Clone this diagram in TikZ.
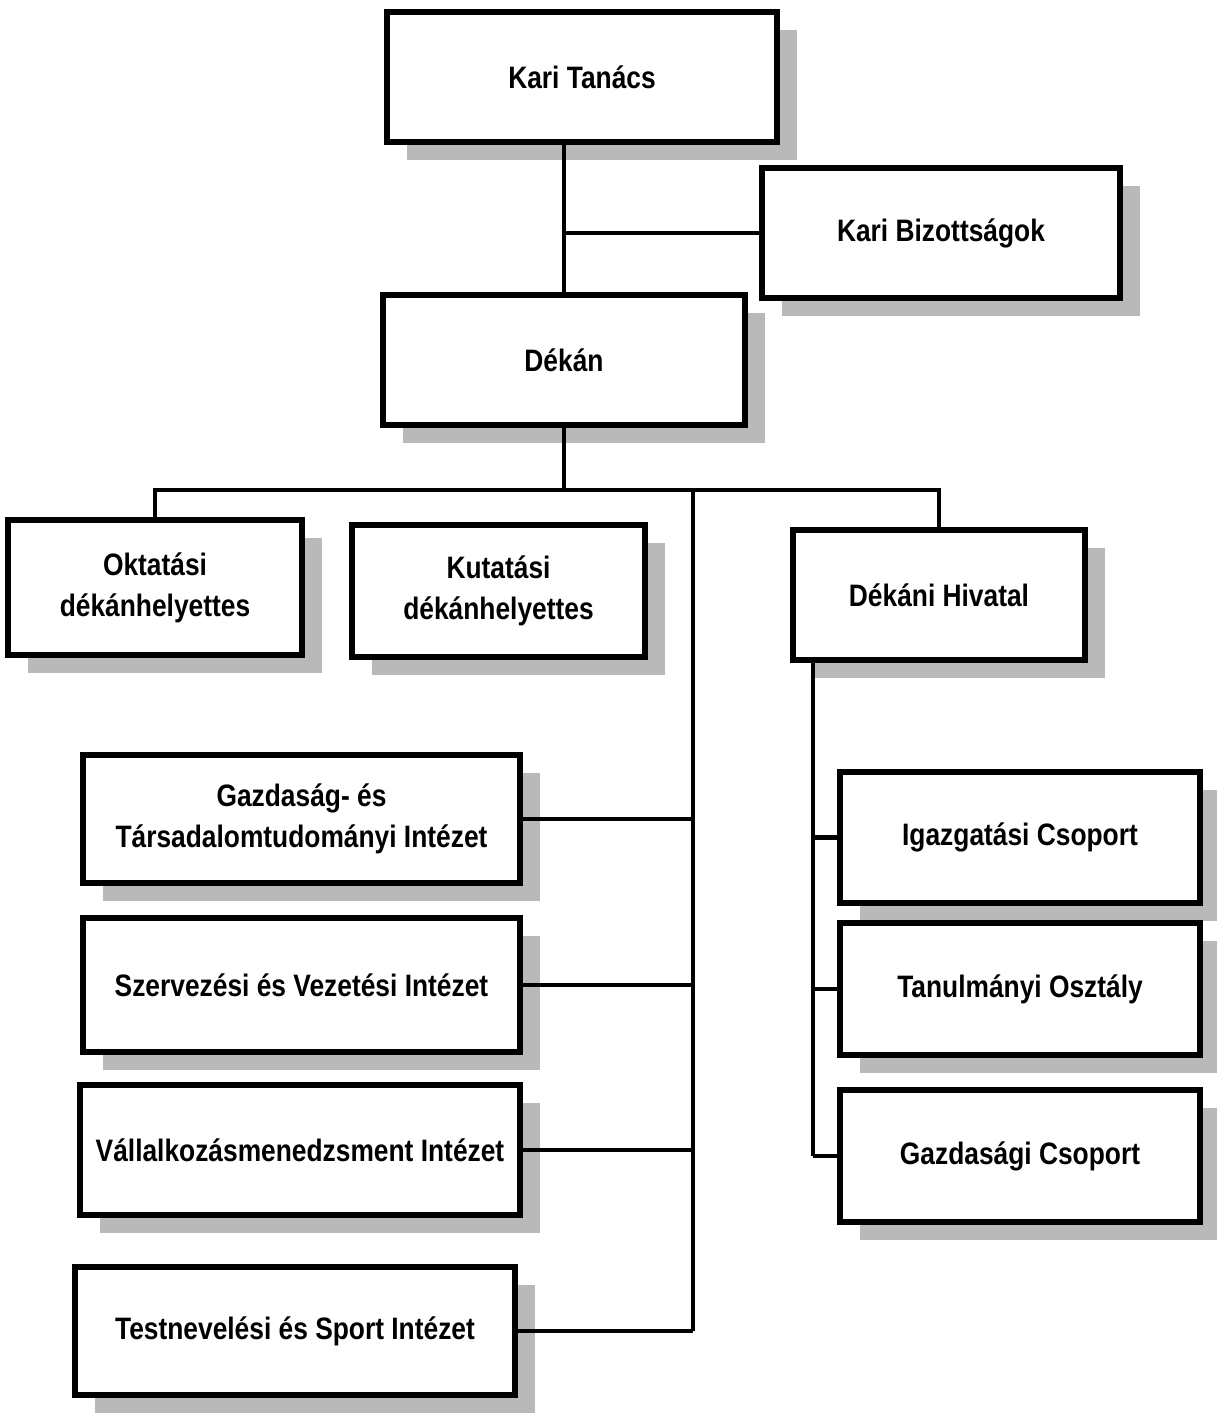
\documentclass[tikz,border=0pt]{standalone}
\usepackage{fontspec}
\setmainfont{Liberation Sans}[FakeStretch=0.85]
\usetikzlibrary{shadows}
\newlength{\pxu}
\setlength{\pxu}{0.5pt}
\begin{document}
\begin{tikzpicture}[x=0.5pt,y=-0.5pt,
  box/.style={draw=black, line width=2.6pt, fill=white, rectangle, align=center,
    font=\fontsize{15.5}{20.5}\selectfont\bfseries, inner sep=0pt,
    drop shadow={shadow xshift=20\pxu, shadow yshift=-18\pxu, fill=gray!55, opacity=1, draw=none}},
  conn/.style={draw=black, line width=2.1pt}]
\useasboundingbox (0,0) rectangle (1216,1418);
\node[box, minimum width=390\pxu, minimum height=130\pxu] (kt) at (582,77) {Kari Tanács};
\node[box, minimum width=358\pxu, minimum height=130\pxu] (kb) at (941,233) {Kari Bizottságok};
\node[box, minimum width=362\pxu, minimum height=130\pxu] (dk) at (564,360) {Dékán};
\node[box, minimum width=294\pxu, minimum height=135\pxu] (ok) at (155,587.5) {Oktatási\\dékánhelyettes};
\node[box, minimum width=293\pxu, minimum height=132\pxu] (ku) at (498.5,591) {Kutatási\\dékánhelyettes};
\node[box, minimum width=292\pxu, minimum height=130\pxu] (dh) at (939,595) {Dékáni Hivatal};
\node[box, minimum width=437\pxu, minimum height=128\pxu] (g1) at (301.5,819) {Gazdaság- és\\Társadalomtudományi Intézet};
\node[box, minimum width=437\pxu, minimum height=134\pxu] (g2) at (301.5,985) {Szervezési és Vezetési Intézet};
\node[box, minimum width=440\pxu, minimum height=130\pxu] (g3) at (300,1150) {Vállalkozásmenedzsment Intézet};
\node[box, minimum width=440\pxu, minimum height=128\pxu] (g4) at (295,1331) {Testnevelési és Sport Intézet};
\node[box, minimum width=360\pxu, minimum height=131\pxu] (r1) at (1020,837.5) {Igazgatási Csoport};
\node[box, minimum width=360\pxu, minimum height=132\pxu] (r2) at (1020,989) {Tanulmányi Osztály};
\node[box, minimum width=360\pxu, minimum height=132\pxu] (r3) at (1020,1156) {Gazdasági Csoport};
\coordinate (bus) at (564,490);
\coordinate (tr) at (693,490);
\coordinate (rb) at (813,660);
\draw[conn] (dk.north) -- (dk.north |- kt.south);
\draw[conn] (kb.west -| dk.north) -- (kb.west);
\draw[conn] (dk.south) -- (bus);
\draw[conn] (ok.north) -- (ok.north |- bus) -- (dh.north |- bus) -- (dh.north);
\draw[conn] (tr) -- (tr |- g4.east);
\draw[conn] (g1.east) -- (g1.east -| tr);
\draw[conn] (g2.east) -- (g2.east -| tr);
\draw[conn] (g3.east) -- (g3.east -| tr);
\draw[conn] (g4.east) -- (g4.east -| tr);
\draw[conn] (rb) -- (rb |- r3.west);
\draw[conn] (r1.west) -- (r1.west -| rb);
\draw[conn] (r2.west) -- (r2.west -| rb);
\draw[conn] (r3.west) -- (r3.west -| rb);
\end{tikzpicture}
\end{document}
